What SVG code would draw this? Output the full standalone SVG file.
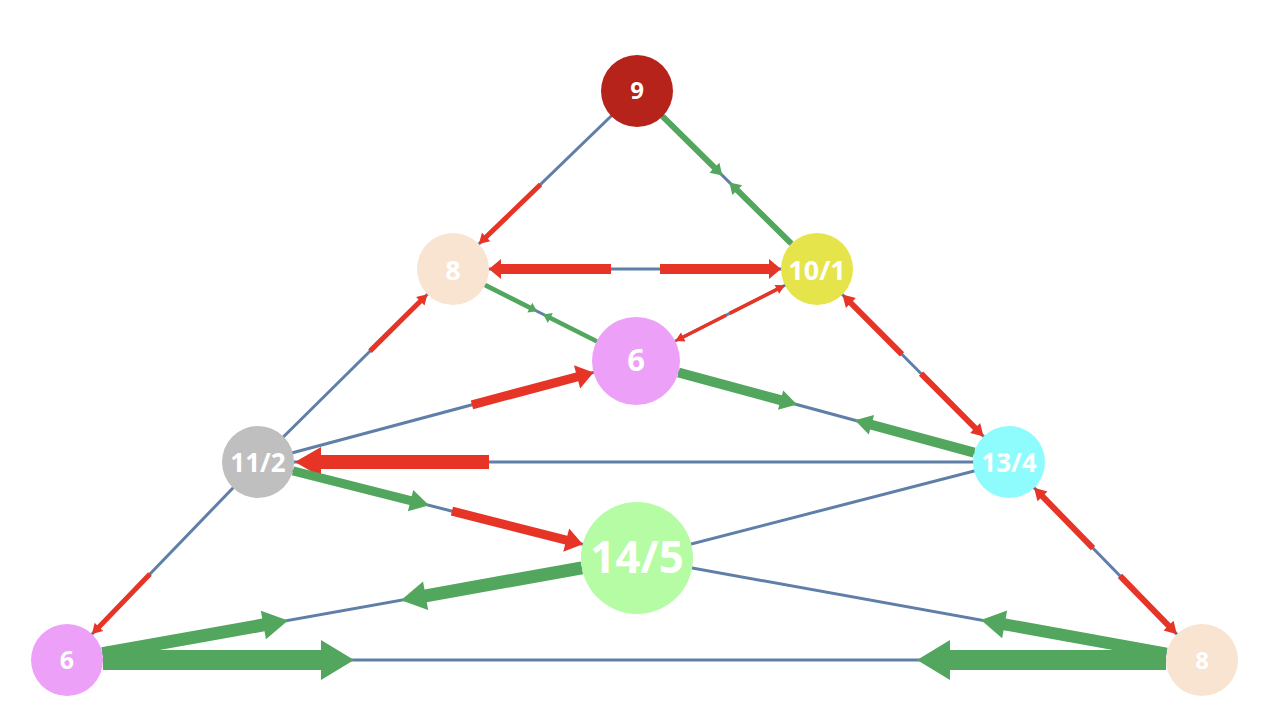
<svg xmlns="http://www.w3.org/2000/svg" width="1270" height="724" viewBox="0 0 1270 724">
<style>
.e{stroke:#5f7fa8;stroke-width:3;fill:none}
.r{fill:#e63426}
.g{fill:#52a65d}
.n text{font-family:"Open Sans","Liberation Sans",sans-serif;font-weight:bold;fill:#ffffff;text-anchor:middle;dominant-baseline:central}
</style>
<rect width="1270" height="724" fill="#ffffff"/>
<g id="connectors">
<g id="edges">
<line class="e" x1="637" y1="91" x2="453" y2="269"/>
<line class="e" x1="637" y1="91" x2="817" y2="269"/>
<line class="e" x1="453" y1="269" x2="817" y2="269"/>
<line class="e" x1="453" y1="269" x2="636" y2="361"/>
<line class="e" x1="817" y1="269" x2="636" y2="361"/>
<line class="e" x1="817" y1="269" x2="1009" y2="462"/>
<line class="e" x1="258" y1="462" x2="453" y2="269"/>
<line class="e" x1="258" y1="462" x2="636" y2="361"/>
<line class="e" x1="636" y1="361" x2="1009" y2="462"/>
<line class="e" x1="258" y1="462" x2="1009" y2="462"/>
<line class="e" x1="258" y1="462" x2="637" y2="558"/>
<line class="e" x1="1009" y1="462" x2="637" y2="558"/>
<line class="e" x1="1009" y1="462" x2="1202" y2="660"/>
<line class="e" x1="258" y1="462" x2="67" y2="660"/>
<line class="e" x1="67" y1="660" x2="637" y2="558"/>
<line class="e" x1="67" y1="660" x2="1202" y2="660"/>
<line class="e" x1="637" y1="558" x2="1202" y2="660"/>
</g>
<g id="arrows">
<path class="r" transform="translate(478.9,244) rotate(136)" d="M-85.6,-2.5H-10V-6L0,0L-10,6V2.5H-85.6Z"/>
<path class="g" transform="translate(722.3,175.4) rotate(44.68)" d="M-84,-3H-11V-7L0,0L-11,7V3H-84Z"/>
<path class="g" transform="translate(729.4,182.4) rotate(224.68)" d="M-87.2,-3H-11V-7L0,0L-11,7V3H-87.2Z"/>
<path class="r" transform="translate(489,269) rotate(180)" d="M-122,-5H-12V-10L0,0L-12,10V5H-122Z"/>
<path class="r" transform="translate(781,269) rotate(0)" d="M-121,-5H-12V-10L0,0L-12,10V5H-121Z"/>
<path class="g" transform="translate(537,311.2) rotate(26.69)" d="M-58,-2.3H-8V-5.5L0,0L-8,5.5V2.3H-58Z"/>
<path class="g" transform="translate(543.2,314.4) rotate(206.69)" d="M-59.8,-2.3H-8V-5.5L0,0L-8,5.5V2.3H-59.8Z"/>
<path class="r" transform="translate(675.2,341.1) rotate(153.06)" d="M-57,-1.75H-9V-5L0,0L-9,5V1.75H-57Z"/>
<path class="r" transform="translate(784.9,285.3) rotate(-26.94)" d="M-62,-1.75H-9V-5L0,0L-9,5V1.75H-62Z"/>
<path class="r" transform="translate(842.4,294.5) rotate(225.15)" d="M-84.5,-3H-12V-7L0,0L-12,7V3H-84.5Z"/>
<path class="r" transform="translate(983.6,436.5) rotate(45.15)" d="M-88.7,-3H-12V-7L0,0L-12,7V3H-88.7Z"/>
<path class="r" transform="translate(1034.1,487.8) rotate(225.73)" d="M-84.3,-3H-12V-7L0,0L-12,7V3H-84.3Z"/>
<path class="r" transform="translate(1176.9,634.2) rotate(45.73)" d="M-81.5,-3H-12V-7L0,0L-12,7V3H-81.5Z"/>
<path class="r" transform="translate(427.4,294.3) rotate(-44.71)" d="M-80.8,-2.5H-10V-6L0,0L-10,6V2.5H-80.8Z"/>
<path class="r" transform="translate(593.5,372.4) rotate(-14.96)" d="M-125.8,-4.5H-17V-12L0,0L-17,12V4.5H-125.8Z"/>
<path class="g" transform="translate(797,404.6) rotate(15.15)" d="M-122.8,-5H-17V-10L0,0L-17,10V5H-122.8Z"/>
<path class="g" transform="translate(855,420.3) rotate(195.15)" d="M-123.5,-5H-17V-10L0,0L-17,10V5H-123.5Z"/>
<path class="r" transform="translate(295,462) rotate(180)" d="M-194,-7H-26V-15L0,0L-26,15V7H-194Z"/>
<path class="g" transform="translate(429,505.3) rotate(14.21)" d="M-140.4,-4.5H-19V-11L0,0L-19,11V4.5H-140.4Z"/>
<path class="r" transform="translate(582.7,544.2) rotate(14.21)" d="M-134.9,-4.5H-17V-12L0,0L-17,12V4.5H-134.9Z"/>
<path class="r" transform="translate(92,634.1) rotate(133.97)" d="M-83.5,-2.5H-10V-6L0,0L-10,6V2.5H-83.5Z"/>
<path class="g" transform="translate(288,620.5) rotate(-10.15)" d="M-188.5,-6.5H-25V-14.5L0,0L-25,14.5V6.5H-188.5Z"/>
<path class="g" transform="translate(401,600.2) rotate(169.85)" d="M-183.8,-6.5H-25V-14.5L0,0L-25,14.5V6.5H-183.8Z"/>
<path class="g" transform="translate(354,660) rotate(0)" d="M-251,-10H-33V-20L0,0L-33,20V10H-251Z"/>
<path class="g" transform="translate(917,660) rotate(180)" d="M-249,-10H-33V-20L0,0L-33,20V10H-249Z"/>
<path class="g" transform="translate(981,620.1) rotate(190.23)" d="M-188.5,-6H-24V-14L0,0L-24,14V6H-188.5Z"/>
</g>
</g>
<g id="n9" class="n"><circle cx="637" cy="91" r="36" fill="#b5231b"/><text x="637" y="89" font-size="24">9</text></g>
<g id="n8a" class="n"><circle cx="453" cy="269" r="36" fill="#f8e4d0"/><text x="453" y="269" font-size="27">8</text></g>
<g id="n10" class="n"><circle cx="817" cy="269" r="36" fill="#e6e44b"/><text x="817" y="269" font-size="27">10/1</text></g>
<g id="n6a" class="n"><circle cx="636" cy="361" r="44" fill="#eca0f7"/><text x="636" y="359" font-size="31">6</text></g>
<g id="n11" class="n"><circle cx="258" cy="462" r="36" fill="#bfbfbf"/><text x="258" y="462" font-size="26">11/2</text></g>
<g id="n13" class="n"><circle cx="1009" cy="462" r="36" fill="#8efbfc"/><text x="1009" y="462" font-size="26">13/4</text></g>
<g id="n14" class="n"><circle cx="637" cy="558" r="56" fill="#b5fca4"/><text x="637" y="556" font-size="44">14/5</text></g>
<g id="n6b" class="n"><circle cx="67" cy="660" r="36" fill="#eca0f7"/><text x="67" y="659" font-size="25">6</text></g>
<g id="n8b" class="n"><circle cx="1202" cy="660" r="36" fill="#f8e4d0"/><text x="1202" y="659" font-size="24">8</text></g>
</svg>
